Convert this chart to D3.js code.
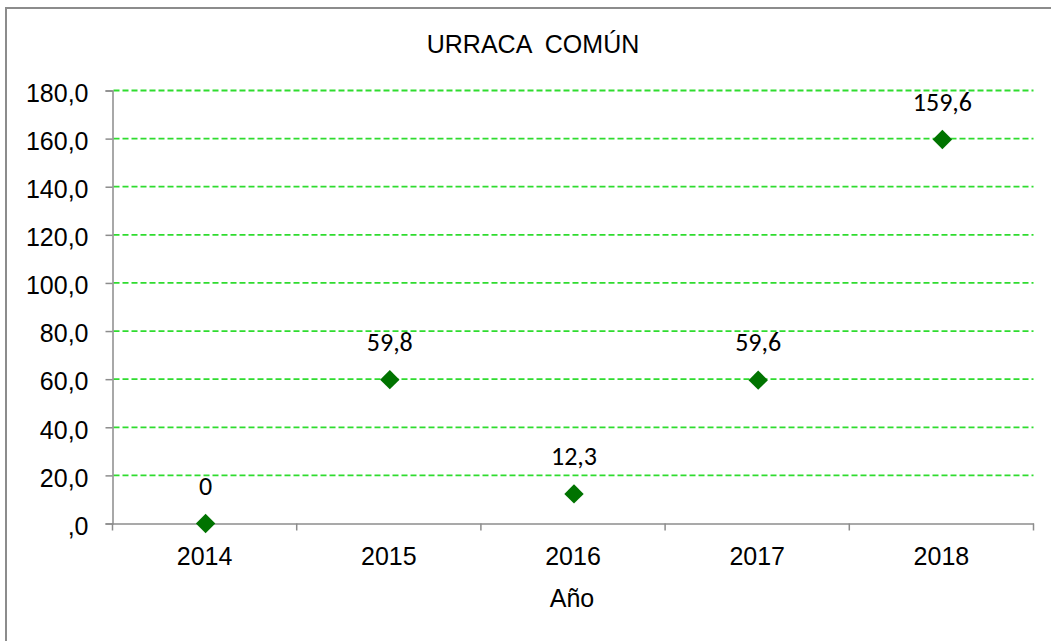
<!doctype html>
<html lang="es">
<head>
<meta charset="utf-8">
<style>
  body { margin: 0; background: #fff; }
  svg text { font-family: "Liberation Sans", Arial, sans-serif; fill: #000; }
  svg text.etiqueta { font-family: Carlito, "Open Sans", "Noto Sans", sans-serif; }
</style>
</head>
<body>
<div id="grafico"></div>
<script src="https://d3js.org/d3.v7.min.js"></script>
<script>

// datos del grafico
var anios = ["2014", "2015", "2016", "2017", "2018"];
var valores = [0, 59.8, 12.3, 59.6, 159.6];
var etiquetas = ["0", "59,8", "12,3", "59,6", "159,6"];
var marcasY = [0, 20, 40, 60, 80, 100, 120, 140, 160, 180];

var ancho = 1051, alto = 641;
var izq = 112.5, der = 1033.5, arriba = 90.5, abajo = 523.5;

var svg = d3.select("#grafico").append("svg").attr("width", ancho).attr("height", alto);

// marco exterior
svg.append("rect").attr("x", 6).attr("y", 8).attr("width", 1060).attr("height", 660)
  .attr("fill", "none").attr("stroke", "#8c8c8c").attr("stroke-width", 2);

var x = d3.scaleBand().domain(anios).range([izq, der]);
var y = d3.scaleLinear().domain([0, 180]).range([abajo, arriba]);

// lineas de division
svg.append("g").selectAll("line").data(marcasY.filter(function(d){ return d > 0; })).enter().append("line")
  .attr("x1", izq + 1).attr("x2", der).attr("y1", function(d){ return y(d); }).attr("y2", function(d){ return y(d); })
  .attr("stroke", "#2fdc2f").attr("stroke-width", 1.8).attr("stroke-dasharray", "6,3");

// eje y
var ejeY = svg.append("g").attr("transform", "translate(" + izq + ",0)")
  .call(d3.axisLeft(y).tickValues(marcasY).tickSize(7).tickPadding(17)
    .tickFormat(function(d){ return d === 0 ? ",0" : d3.format(".1f")(d).replace(".", ","); }));
ejeY.select(".domain").attr("stroke", "#8c8c8c").attr("stroke-width", 1.5);
ejeY.selectAll(".tick line").attr("stroke", "#8c8c8c").attr("stroke-width", 1.5);
ejeY.selectAll("text").style("font-size", "25px").style("font-family", "'Liberation Sans', Arial, sans-serif").attr("dy", "0.43em");

// eje x
var ejeX = svg.append("g").attr("transform", "translate(0," + abajo + ")")
  .call(d3.axisBottom(x).tickSize(0).tickPadding(24));
ejeX.select(".domain").attr("stroke", "#8c8c8c").attr("stroke-width", 1.5);
ejeX.selectAll("text").style("font-size", "25px").style("font-family", "'Liberation Sans', Arial, sans-serif");
// marcas entre categorias
var bordes = anios.map(function(d){ return x(d); }).concat([x(anios[anios.length - 1]) + x.bandwidth()]);
ejeX.selectAll("line.borde").data(bordes).enter().append("line").attr("class", "borde")
  .attr("x1", function(d){ return d; }).attr("x2", function(d){ return d; })
  .attr("y1", 0).attr("y2", 7).attr("stroke", "#8c8c8c").attr("stroke-width", 1.5);

// puntos en rombo
var rombo = d3.symbol().type(d3.symbolDiamond2).size(240);
svg.append("g").selectAll("path").data(valores).enter().append("path")
  .attr("d", rombo)
  .attr("transform", function(d, i){ return "translate(" + (x(anios[i]) + x.bandwidth() / 2 + 1) + "," + y(d) + ")"; })
  .attr("fill", "#007300");

// etiquetas de datos
svg.append("g").selectAll("text").data(valores).enter().append("text").attr("class", "etiqueta")
  .attr("x", function(d, i){ return x(anios[i]) + x.bandwidth() / 2 + 1; })
  .attr("y", function(d){ return y(d) - 29; })
  .attr("text-anchor", "middle").style("font-size", "26px")
  .text(function(d, i){ return etiquetas[i]; });

// titulo y nombre del eje
svg.append("text").attr("x", 533).attr("y", 53).attr("text-anchor", "middle")
  .style("font-size", "25px").attr("xml:space", "preserve").text("URRACA  COMÚN");
svg.append("text").attr("x", 572).attr("y", 607).attr("text-anchor", "middle")
  .style("font-size", "25px").text("Año");

</script>
</body>
</html>
